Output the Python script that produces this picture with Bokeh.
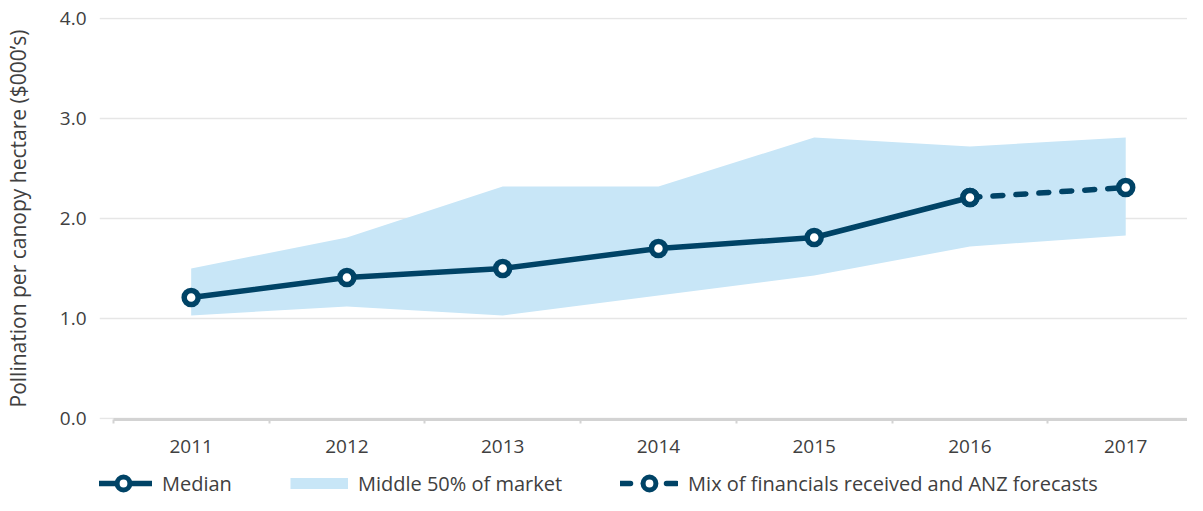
from bokeh.plotting import figure
from bokeh.layouts import column
from bokeh.models import Range1d, FixedTicker, Legend, LegendItem, NumeralTickFormatter
from bokeh.embed import file_html
from bokeh.resources import INLINE

years = [2011, 2012, 2013, 2014, 2015, 2016, 2017]
median = [1.21, 1.41, 1.50, 1.70, 1.81, 2.21, 2.31]
band_low = [1.03, 1.12, 1.03, 1.23, 1.43, 1.72, 1.83]
band_high = [1.50, 1.81, 2.32, 2.32, 2.81, 2.72, 2.81]
actual_years = years[:6]
actual_median = median[:6]
forecast_years = years[5:]
forecast_median = median[5:]
y_ticks = [0, 1, 2, 3, 4]
half_ticks = [2010.5, 2011.5, 2012.5, 2013.5, 2014.5, 2015.5, 2016.5, 2017.5]
legend_labels = ["Median", "Middle 50% of market",
                 "Mix of financials received and ANZ forecasts"]

NAVY = "#004366"
BAND = "#c8e6f7"
TEXT = "#404040"
FONT = "Open Sans"
NAN = [float("nan")]

p = figure(width=1187, height=465, output_backend="svg", toolbar_location=None,
           x_range=Range1d(2010.4115, 2017.3966), y_range=Range1d(-0.01, 4.01),
           min_border_left=95, min_border_right=0, min_border_top=17, min_border_bottom=46)
p.outline_line_color = None
p.background_fill_color = "white"

band = p.varea(x=years, y1=band_low, y2=band_high, fill_color=BAND, fill_alpha=1.0)
l1 = p.line(actual_years, actual_median, line_color=NAVY, line_width=5.5, line_join="round")
l2 = p.line(forecast_years, forecast_median, line_color=NAVY, line_width=5.5,
            line_dash="10 13", line_cap="round")
c1 = p.scatter(actual_years, actual_median, size=14, fill_color="white",
               line_color=NAVY, line_width=5.5)
c2 = p.scatter(forecast_years, forecast_median, size=14, fill_color="white",
               line_color=NAVY, line_width=5.5)

# grids
p.xgrid.grid_line_color = None
p.ygrid.grid_line_color = "#e6e6e6"
p.ygrid.grid_line_width = 1.5
p.ygrid.ticker = FixedTicker(ticks=y_ticks)

# y axis
p.yaxis.ticker = FixedTicker(ticks=y_ticks)
p.yaxis.formatter = NumeralTickFormatter(format="0.0")
p.yaxis.axis_line_color = None
p.yaxis.major_tick_line_color = None
p.yaxis.minor_tick_line_color = None
p.yaxis.major_label_standoff = 7
p.yaxis.major_label_text_font = FONT
p.yaxis.major_label_text_font_size = "19px"
p.yaxis.major_label_text_color = TEXT
p.yaxis.axis_label = "Pollination per canopy hectare ($000\u2019s)"
p.yaxis.axis_label_text_font = FONT
p.yaxis.axis_label_text_font_size = "21px"
p.yaxis.axis_label_text_font_style = "normal"
p.yaxis.axis_label_text_color = TEXT
p.yaxis.axis_label_standoff = 25

# x axis
p.xaxis.ticker = FixedTicker(ticks=years, minor_ticks=half_ticks)
p.xaxis.bounds = (2010.5, 2017.5)
p.xaxis.axis_line_color = "#d3d3d3"
p.xaxis.axis_line_width = 3
p.xaxis.major_tick_line_color = None
p.xaxis.minor_tick_line_color = "#d3d3d3"
p.xaxis.minor_tick_line_width = 2
p.xaxis.minor_tick_in = 0
p.xaxis.minor_tick_out = 4
p.xaxis.major_label_standoff = 14
p.xaxis.major_label_text_font = FONT
p.xaxis.major_label_text_font_size = "19px"
p.xaxis.major_label_text_color = TEXT

# legend strip: key renderers hold a single NaN so only their legend swatch shows
lg = figure(width=1187, height=30, output_backend="svg", toolbar_location=None,
            x_range=Range1d(0, 1), y_range=Range1d(0, 1),
            x_axis_location=None, y_axis_location=None,
            min_border_left=0, min_border_right=0, min_border_top=0, min_border_bottom=0)
lg.grid.visible = False
lg.outline_line_color = None
k1 = lg.line(x=NAN, y=NAN, line_color=NAVY, line_width=5.5, line_cap="round")
k1c = lg.scatter(x=NAN, y=NAN, size=13, fill_color="white", line_color=NAVY, line_width=5)
k2 = lg.line(x=NAN, y=NAN, line_color=BAND, line_width=11)
k3 = lg.line(x=NAN, y=NAN, line_color=NAVY, line_width=5.5, line_dash="10 13", line_cap="round")
k3c = lg.scatter(x=NAN, y=NAN, size=13, fill_color="white", line_color=NAVY, line_width=5)

legend = Legend(items=[
    LegendItem(label=legend_labels[0], renderers=[k1, k1c]),
    LegendItem(label=legend_labels[1], renderers=[k2]),
    LegendItem(label=legend_labels[2], renderers=[k3, k3c]),
], orientation="horizontal", location=(-5, -4))
legend.glyph_width = 58
legend.glyph_height = 32
legend.label_text_font = FONT
legend.label_text_font_size = "20px"
legend.label_text_color = TEXT
legend.label_standoff = 10
legend.spacing = 58
legend.padding = 0
legend.margin = 0
legend.border_line_color = None
legend.background_fill_alpha = 0
legend.label_height = 20
lg.add_layout(legend)

layout = column(p, lg, spacing=0)
open("out.html", "w").write(file_html(layout, INLINE))
